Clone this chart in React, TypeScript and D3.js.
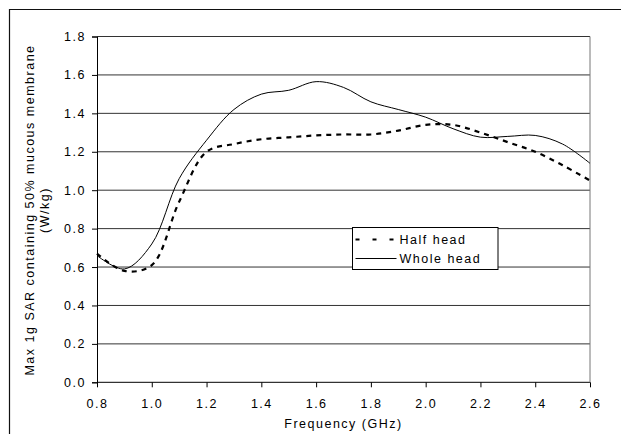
import React, { useEffect, useRef } from "react";
import * as d3 from "d3";

const freqs = [0.8, 0.9, 1.0, 1.1, 1.2, 1.3, 1.4, 1.5, 1.6, 1.7, 1.8, 1.9, 2.0, 2.1, 2.2, 2.3, 2.4, 2.5, 2.6];
const halfHead = [0.67, 0.58, 0.61, 0.94, 1.2, 1.24, 1.265, 1.275, 1.285, 1.29, 1.29, 1.31, 1.34, 1.34, 1.3, 1.25, 1.2, 1.13, 1.05];
const wholeHead = [0.66, 0.59, 0.72, 1.06, 1.26, 1.42, 1.5, 1.52, 1.565, 1.535, 1.46, 1.42, 1.38, 1.32, 1.276, 1.28, 1.285, 1.24, 1.14];
const xTicks = [0.8, 1.0, 1.2, 1.4, 1.6, 1.8, 2.0, 2.2, 2.4, 2.6];
const yTicks = [0.0, 0.2, 0.4, 0.6, 0.8, 1.0, 1.2, 1.4, 1.6, 1.8];

export default function App() {
  const ref = useRef<SVGSVGElement>(null);

  useEffect(() => {
    const svg = d3.select(ref.current);
    svg.selectAll("*").remove();

    const width = 621;
    const height = 434;
    const margin = { top: 36.5, right: 31, bottom: 52, left: 97 };
    const font = "Liberation Sans, Arial, sans-serif";

    svg.attr("width", width).attr("height", height);

    // outer frame (cut off on the right and bottom)
    svg.append("path")
      .attr("d", `M9.5,${height} V9.5 H${width}`)
      .attr("fill", "none")
      .attr("stroke", "#111")
      .attr("stroke-width", 1.2);

    const x = d3.scaleLinear().domain([0.8, 2.6]).range([margin.left, width - margin.right]);
    const y = d3.scaleLinear().domain([0, 1.8]).range([height - margin.bottom + 0.3, margin.top]);

    // gridlines
    svg.append("g")
      .selectAll("line")
      .data(yTicks)
      .enter()
      .append("line")
      .attr("x1", x(0.8))
      .attr("x2", x(2.6))
      .attr("y1", d => y(d))
      .attr("y2", d => y(d))
      .attr("stroke", d => (d === 0 ? "#000" : "#333"))
      .attr("stroke-width", 1);

    // right plot border
    svg.append("line")
      .attr("x1", x(2.6)).attr("x2", x(2.6))
      .attr("y1", y(1.8)).attr("y2", y(0))
      .attr("stroke", "#777");

    // Y Axis
    const yAxis = svg.append("g")
      .attr("transform", `translate(${margin.left},0)`)
      .call(d3.axisLeft(y).tickValues(yTicks).tickFormat(d3.format(".1f")).tickSize(5).tickPadding(6));
    yAxis.select(".domain").attr("stroke", "#000");
    yAxis.selectAll("text")
      .style("font-family", font)
      .style("font-size", "12.5px")
      .style("letter-spacing", "1.5px")
      .attr("fill", "#000");

    // X Axis
    const xAxis = svg.append("g")
      .attr("transform", `translate(0,${y(0)})`)
      .call(d3.axisBottom(x).tickValues(xTicks).tickFormat(d3.format(".1f")).tickSize(5).tickPadding(12));
    xAxis.select(".domain").remove();
    xAxis.selectAll("text")
      .style("font-family", font)
      .style("font-size", "12.5px")
      .style("letter-spacing", "1.5px")
      .attr("fill", "#000");

    // axis titles
    svg.append("text")
      .attr("x", x(1.7))
      .attr("y", 428)
      .attr("text-anchor", "middle")
      .style("font-family", font)
      .style("font-size", "12.5px")
      .style("letter-spacing", "1.5px")
      .text("Frequency (GHz)");

    const yLabel = svg.append("text")
      .attr("transform", `translate(34,210) rotate(-90)`)
      .attr("text-anchor", "middle")
      .style("font-family", font)
      .style("font-size", "12.5px")
      .style("letter-spacing", "1.5px");
    yLabel.append("tspan").attr("x", 0).attr("y", 0).text("Max 1g SAR containing 50% mucous membrane");
    yLabel.append("tspan").attr("x", 0).attr("y", 15).text("(W/kg)");

    const line = d3.line<number>()
      .x((_, i) => x(freqs[i]))
      .y(d => y(d))
      .curve(d3.curveCatmullRom.alpha(0.5));

    svg.append("path")
      .datum(wholeHead)
      .attr("d", line)
      .attr("fill", "none")
      .attr("stroke", "#000")
      .attr("stroke-width", 1);

    svg.append("path")
      .datum(halfHead)
      .attr("d", line)
      .attr("fill", "none")
      .attr("stroke", "#000")
      .attr("stroke-width", 2.2)
      .attr("stroke-dasharray", "5,5");

    // legend
    const lg = svg.append("g").attr("transform", "translate(352.5,227.5)");
    lg.append("rect")
      .attr("width", 145.5)
      .attr("height", 42)
      .attr("fill", "#fff")
      .attr("stroke", "#000");
    lg.append("line")
      .attr("x1", 3).attr("x2", 42).attr("y1", 12).attr("y2", 12)
      .attr("stroke", "#000").attr("stroke-width", 2.2).attr("stroke-dasharray", "4,13");
    lg.append("line")
      .attr("x1", 3).attr("x2", 44).attr("y1", 31).attr("y2", 31)
      .attr("stroke", "#000").attr("stroke-width", 1);
    lg.append("text")
      .attr("x", 47).attr("y", 16.5)
      .style("font-family", font).style("font-size", "12.5px").style("letter-spacing", "1.5px")
      .text("Half head");
    lg.append("text")
      .attr("x", 47).attr("y", 35.5)
      .style("font-family", font).style("font-size", "12.5px").style("letter-spacing", "1.5px")
      .text("Whole head");
  }, []);

  return (
    <svg ref={ref} style={{ position: "absolute", left: 0, top: 0, background: "#fff" }}></svg>
  );
}
